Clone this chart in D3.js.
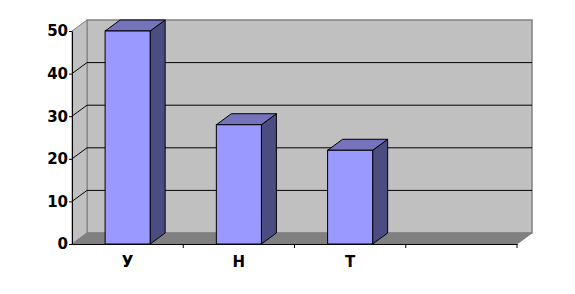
<!DOCTYPE html>
<html>
<head>
  <meta charset="utf-8">
  <script src="https://d3js.org/d3.v7.min.js"></script>
  <style>
    body { margin: 0; background: #fff; }
    text { font-family: "DejaVu Sans", Verdana, sans-serif; font-weight: bold; font-size: 15px; fill: #000; }
  </style>
</head>
<body>
<svg id="chart" width="575" height="294"></svg>
<script>
  // data
  var categories = ['У', 'Н', 'Т', ''];
  var values = [50, 28, 22];
  var yTicks = [0, 10, 20, 30, 40, 50];

  var plotL = 72, plotR = 517, plotT = 31, plotB = 244;
  var dx = 15, dy = -11; // 3d depth offset
  var svg = d3.select('#chart');

  var x = d3.scaleBand().domain(categories).range([plotL, plotR]);
  var y = d3.scaleLinear().domain([0, 50]).range([plotB, plotT]);
  var barW = x.bandwidth() * 0.405;

  function pts(a) { return a.map(function(p) { return p.join(','); }).join(' '); }

  // back wall
  svg.append('rect')
    .attr('x', plotL + dx).attr('y', plotT + dy)
    .attr('width', plotR - plotL).attr('height', plotB - plotT)
    .attr('fill', '#c0c0c0').attr('stroke', '#808080').attr('stroke-width', 1.5);
  // left wall
  svg.append('polygon')
    .attr('points', pts([[plotL, plotB], [plotL, plotT], [plotL + dx, plotT + dy], [plotL + dx, plotB + dy]]))
    .attr('fill', '#c0c0c0').attr('stroke', '#808080').attr('stroke-width', 1);
  // floor
  svg.append('polygon')
    .attr('points', pts([[plotL, plotB], [plotR, plotB], [plotR + dx, plotB + dy], [plotL + dx, plotB + dy]]))
    .attr('fill', '#808080').attr('stroke', '#808080').attr('stroke-width', 1);

  // gridlines on back and left walls
  var grid = yTicks.filter(function(v) { return v > 0 && v < 50; });
  svg.selectAll('.gridb').data(grid).enter().append('line')
    .attr('x1', plotL + dx).attr('x2', plotR + dx)
    .attr('y1', function(d) { return y(d) + dy; })
    .attr('y2', function(d) { return y(d) + dy; })
    .attr('stroke', '#000').attr('stroke-width', 1);
  svg.selectAll('.gridl').data(grid).enter().append('line')
    .attr('x1', plotL).attr('x2', plotL + dx)
    .attr('y1', function(d) { return y(d); })
    .attr('y2', function(d) { return y(d) + dy; })
    .attr('stroke', '#000').attr('stroke-width', 1);

  // y axis
  var yAxis = svg.append('g')
    .attr('transform', 'translate(' + plotL + ',0)')
    .call(d3.axisLeft(y).tickValues(yTicks).tickSize(3).tickSizeOuter(0).tickPadding(1));
  yAxis.selectAll('path, line').attr('stroke', '#000');
  yAxis.selectAll('text').attr('font-size', null).attr('font-family', null);

  // x axis: labels at band centres, ticks at band edges
  var xAxis = svg.append('g')
    .attr('transform', 'translate(0,' + plotB + ')')
    .call(d3.axisBottom(x).tickSize(0).tickSizeOuter(0).tickPadding(12));
  xAxis.select('.domain').attr('stroke', '#000');
  xAxis.selectAll('text').attr('font-size', null).attr('font-family', null);
  xAxis.selectAll('.edge').data(categories).enter().append('line')
    .attr('x1', function(d) { return x(d) + x.bandwidth(); })
    .attr('x2', function(d) { return x(d) + x.bandwidth(); })
    .attr('y1', 0).attr('y2', 4)
    .attr('stroke', '#000');

  // bars
  var bars = svg.selectAll('.bar').data(values).enter().append('g');
  function bx(d, i) { return x(categories[i]) + x.bandwidth() / 2 - barW / 2; }
  bars.append('polygon')
    .attr('points', function(d, i) {
      var x0 = bx(d, i) + barW;
      return pts([[x0, y(d)], [x0 + dx, y(d) + dy], [x0 + dx, plotB + dy], [x0, plotB]]);
    })
    .attr('fill', '#4b4d80').attr('stroke', '#000').attr('stroke-width', 1);
  bars.append('polygon')
    .attr('points', function(d, i) {
      var x0 = bx(d, i);
      return pts([[x0, y(d)], [x0 + barW, y(d)], [x0 + barW + dx, y(d) + dy], [x0 + dx, y(d) + dy]]);
    })
    .attr('fill', '#7573bb').attr('stroke', '#000').attr('stroke-width', 1);
  bars.append('rect')
    .attr('x', bx)
    .attr('y', function(d) { return y(d); })
    .attr('width', barW)
    .attr('height', function(d) { return plotB - y(d); })
    .attr('fill', '#9999ff').attr('stroke', '#000').attr('stroke-width', 1);
</script>
</body>
</html>
